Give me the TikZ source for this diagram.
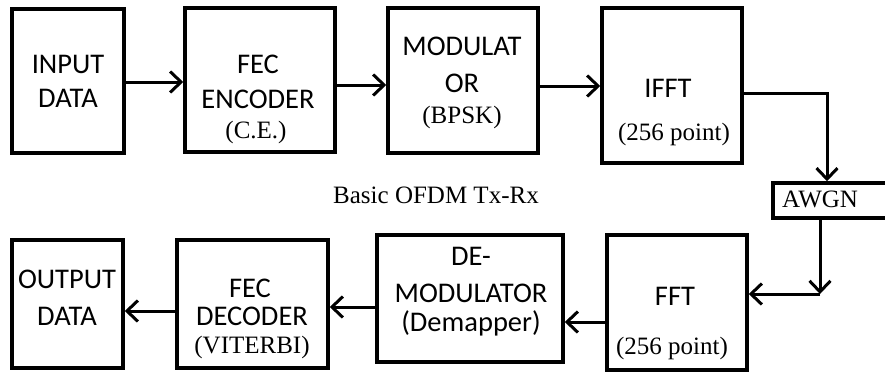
\documentclass[tikz,border=0pt]{standalone}
\usepackage{fontspec}
\setmainfont{Liberation Serif}
\newfontfamily\calib{Carlito}
\usetikzlibrary{arrows.meta}
\begin{document}
\begin{tikzpicture}[x=1pt,y=-1pt,
  blk/.style={draw, line width=3.5pt, inner sep=0pt},
  sf/.style={anchor=base, inner sep=0pt, font=\calib\fontsize{28.5}{34}\selectfont},
  sr/.style={anchor=base, inner sep=0pt, font=\fontsize{25}{30}\selectfont},
  arr/.style={line width=3pt, -{Straight Barb[length=11pt,width=21pt,line width=3pt]}},
  ln/.style={line width=3pt}]
\useasboundingbox (0,0) rectangle (885,372);
\fill[white] (0,0) rectangle (885,372);
% boxes
\node[blk, minimum width=112pt, minimum height=144pt] (inp) at (68,81) {};
\node[blk, minimum width=150pt, minimum height=144pt] (enc) at (260,80) {};
\node[blk, minimum width=150pt, minimum height=145pt] (mod) at (463,80.5) {};
\node[blk, minimum width=140pt, minimum height=155pt] (ifft) at (672,85.5) {};
\node[blk, minimum width=122pt, minimum height=35pt] (awgn) at (834,200.5) {};
\node[blk, minimum width=140pt, minimum height=135pt] (fft) at (677,302.5) {};
\node[blk, minimum width=186pt, minimum height=127pt] (dem) at (470,298.5) {};
\node[blk, minimum width=151pt, minimum height=128pt] (dec) at (252.5,304) {};
\node[blk, minimum width=111pt, minimum height=128pt] (out) at (67.5,304) {};
% texts
\node[sf] (inp1) at (68,73) {INPUT};
\node[sf] (inp2) at (68,107) {DATA};
\node[sf] (enc1) at (258,73) {FEC};
\node[sf] (enc2) at (258,108) {ENCODER};
\node[sr] (enc3) at (256,138) {(C.E.)};
\node[sf] (mod1) at (462,55) {MODULAT};
\node[sf] (mod2) at (462,92) {OR};
\node[sr] (mod3) at (462,123) {(BPSK)};
\node[sf] (ifft1) at (668,97) {IFFT};
\node[sr] (ifft2) at (674,140) {(256 point)};
\node[sr, anchor=base west] (awgn1) at (782,207) {AWGN};
\node[sr, anchor=base west] (title) at (333,203) {Basic OFDM Tx-Rx};
\node[sf] (fft1) at (675,305) {FFT};
\node[sr] (fft2) at (672,354) {(256 point)};
\node[sf] (dem1) at (471,265) {DE-};
\node[sf] (dem2) at (471,302) {MODULATOR};
\node[sf] (dem3) at (471,331) {(Demapper)};
\node[sf] (dec1) at (250,297) {FEC};
\node[sf] (dec2) at (252,325) {DECODER};
\node[sr] (dec3) at (252,353) {(VITERBI)};
\node[sf] (out1) at (67,288) {OUTPUT};
\node[sf] (out2) at (67,325) {DATA};
% connectors
\draw[arr] ([yshift=-1pt]inp.east) -- ([yshift=-1pt]inp.east -| enc.west);
\draw[arr] ([yshift=-5pt]enc.east) -- ([yshift=-5pt]enc.east -| mod.west);
\draw[arr] ([yshift=-5.5pt]mod.east) -- ([yshift=-5.5pt]mod.east -| ifft.west);
\draw[arr] ([yshift=-7.5pt]ifft.east) -| ([xshift=-7pt]awgn.north);
\coordinate (cr) at (820,294);
\draw[arr] ([xshift=-14pt]awgn.south) -- (cr);
\draw[arr] (cr) -- (cr -| fft.east);
\draw[arr] ([yshift=-19.5pt]fft.west) -- ([yshift=-19.5pt]fft.west -| dem.east);
\draw[arr] ([yshift=-8.5pt]dem.west) -- ([yshift=-8.5pt]dem.west -| dec.east);
\draw[arr] ([yshift=-7pt]dec.west) -- ([yshift=-7pt]dec.west -| out.east);
\end{tikzpicture}
\end{document}
